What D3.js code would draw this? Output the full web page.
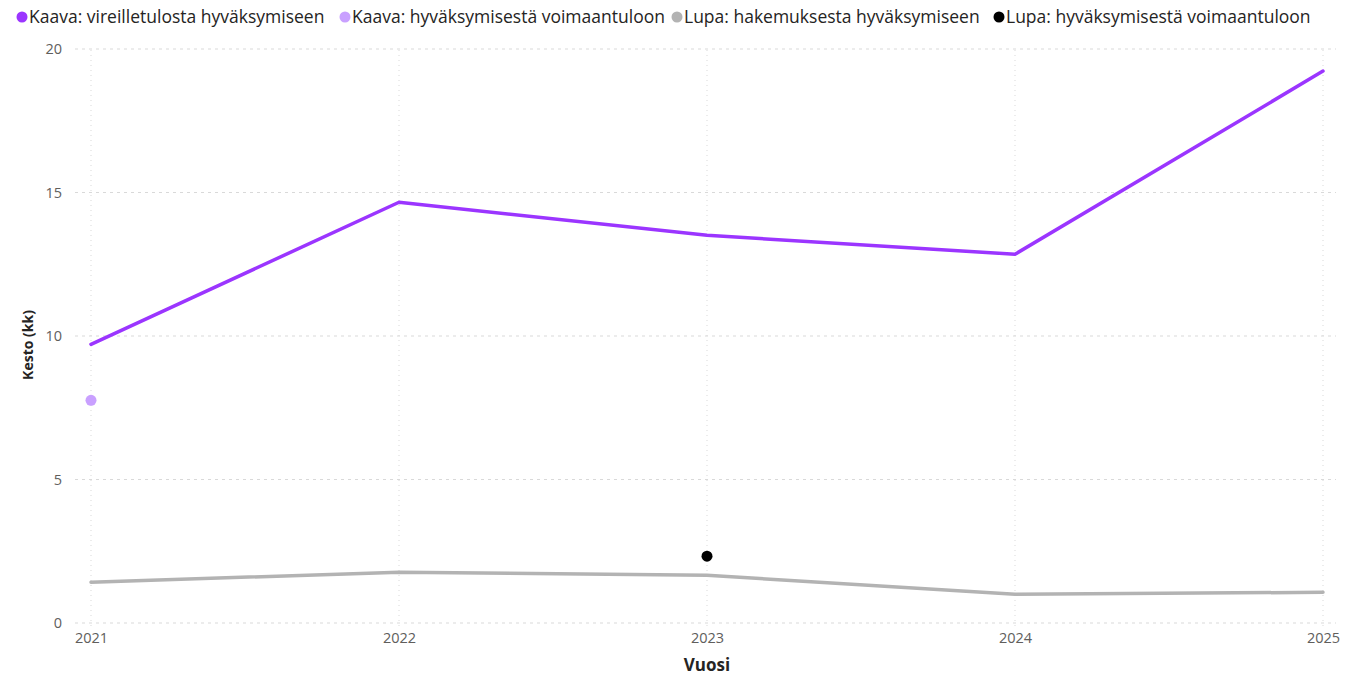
<!DOCTYPE html>
<html>
<head>
<meta charset="utf-8">
<script src="https://cdn.jsdelivr.net/npm/d3@7"></script>
<style>
  body { margin: 0; background: #fff; }
  svg { font-family: "Open Sans", "Noto Sans", sans-serif; }
</style>
</head>
<body>
<svg id="chart" width="1357" height="676"></svg>
<script>
// years on the x axis
var years = [2021, 2022, 2023, 2024, 2025];
// series values (months), null = no value
var kaavaVireille = [9.71, 14.66, 13.51, 12.85, 19.23];
var kaavaVoimaan = [7.76, null, null, null, null];
var lupaHakemus = [1.42, 1.77, 1.66, 1.0, 1.07];
var lupaVoimaan = [null, null, 2.33, null, null];
var yTicks = [0, 5, 10, 15, 20];

var series = [
  { name: "Kaava: vireilletulosta hyväksymiseen", values: kaavaVireille, color: "#9b35ff" },
  { name: "Kaava: hyväksymisestä voimaantuloon", values: kaavaVoimaan, color: "#c9a0ff" },
  { name: "Lupa: hakemuksesta hyväksymiseen", values: lupaHakemus, color: "#b3b3b3" },
  { name: "Lupa: hyväksymisestä voimaantuloon", values: lupaVoimaan, color: "#000000" }
];

var svg = d3.select("#chart");

var x = d3.scaleLinear().domain([2021, 2025]).range([91, 1323]);
var y = d3.scaleLinear().domain([0, 20]).range([623, 49]);

// horizontal grid
svg.append("g").selectAll("line").data(yTicks).join("line")
  .attr("x1", 75).attr("x2", 1336)
  .attr("y1", d => y(d)).attr("y2", d => y(d))
  .attr("stroke", "#d9d9d9").attr("stroke-width", 1)
  .attr("stroke-dasharray", "3,4");

// vertical grid
svg.append("g").selectAll("line").data(years).join("line")
  .attr("x1", d => x(d)).attr("x2", d => x(d))
  .attr("y1", 50).attr("y2", 626)
  .attr("stroke", "#d9d9d9").attr("stroke-width", 1)
  .attr("stroke-dasharray", "1,4");

// y axis labels
var yAxis = d3.axisLeft(y).tickValues(yTicks).tickSize(0).tickPadding(0);
var gy = svg.append("g").attr("transform", "translate(62,0)").call(yAxis);
gy.select(".domain").remove();
gy.selectAll("text").attr("fill", "#605e5c").style("font-size", "14.5px")
  .style("font-family", "'Open Sans', sans-serif");

// x axis labels
var xAxis = d3.axisBottom(x).tickValues(years).tickFormat(d3.format("d")).tickSize(0).tickPadding(0);
var gx = svg.append("g").attr("transform", "translate(0,633)").call(xAxis);
gx.select(".domain").remove();
gx.selectAll("text").attr("fill", "#605e5c").style("font-size", "14.5px")
  .style("font-family", "'Open Sans', sans-serif");

// axis titles
svg.append("text").attr("x", 707).attr("y", 671).attr("text-anchor", "middle")
  .attr("fill", "#252423").style("font-size", "17px").style("font-weight", "bold")
  .text("Vuosi");
svg.append("text").attr("transform", "translate(33,345) rotate(-90)").attr("text-anchor", "middle")
  .attr("fill", "#252423").style("font-size", "14px").style("font-weight", "bold")
  .text("Kesto (kk)");

// lines
var line = d3.line()
  .defined(d => d.v != null)
  .x(d => x(d.year)).y(d => y(d.v));

series.forEach(function(s) {
  var pts = years.map((yr, i) => ({ year: yr, v: s.values[i] }));
  var count = pts.filter(p => p.v != null).length;
  if (count > 1) {
    svg.append("path").datum(pts)
      .attr("d", line)
      .attr("fill", "none")
      .attr("stroke", s.color)
      .attr("stroke-width", 3.5)
      .attr("stroke-linejoin", "round")
      .attr("stroke-linecap", "round");
  } else {
    // single point series drawn as marker
    svg.append("g").selectAll("circle").data(pts.filter(p => p.v != null)).join("circle")
      .attr("cx", d => x(d.year)).attr("cy", d => y(d.v))
      .attr("r", 5.5).attr("fill", s.color);
  }
});

// legend
var legendX = [22, 345, 677, 999];
var lg = svg.append("g").selectAll("g").data(series).join("g")
  .attr("transform", (d, i) => "translate(" + legendX[i] + ",17)");
lg.append("circle").attr("r", 5.5).attr("fill", d => d.color);
lg.append("text").attr("x", 7).attr("y", 6)
  .attr("fill", "#252423").style("font-size", "17.5px")
  .text(d => d.name);
</script>
</body>
</html>
